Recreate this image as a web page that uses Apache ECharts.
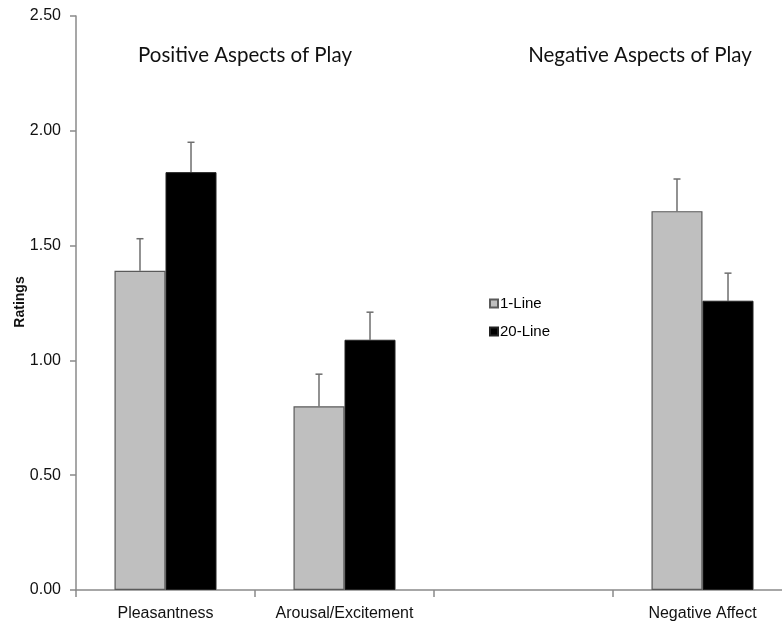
<!DOCTYPE html>
<html>
<head>
<meta charset="utf-8">
<script src="https://cdn.jsdelivr.net/npm/echarts@6/dist/echarts.min.js"></script>
<style>html,body{margin:0;padding:0;background:#fff}#c{width:782px;height:622px}</style>
</head>
<body>
<div id="c"></div>
<script>
var categories = ['Pleasantness', 'Arousal/Excitement', '', 'Negative Affect'];
var seriesNames = ['1-Line', '20-Line'];
var line1 = [1.39, 0.80, null, 1.65];
var line20 = [1.82, 1.09, null, 1.26];
var err1 = [0.14, 0.14, null, 0.14];
var err20 = [0.13, 0.12, null, 0.12];
var yTicks = [0, 0.5, 1.0, 1.5, 2.0, 2.5];
var groupTitles = ['Positive Aspects of Play', 'Negative Aspects of Play'];
var yAxisTitle = 'Ratings';

var CAT_GAP = 0.43;

function errData(vals, errs) {
  var out = [];
  for (var i = 0; i < vals.length; i++) {
    if (vals[i] == null) continue;
    out.push([i, vals[i], vals[i] + errs[i]]);
  }
  return out;
}

function errRender(side) {
  return function (params, api) {
    var idx = api.value(0);
    var lo = api.coord([idx, api.value(1)]);
    var hi = api.coord([idx, api.value(2)]);
    var catW = api.size([1, 0])[0];
    var barW = catW * (1 - CAT_GAP) / 2;
    var x = lo[0] + side * barW / 2;
    var cap = 3.5;
    return {
      type: 'group',
      children: [
        {type: 'line', shape: {x1: x, y1: lo[1], x2: x, y2: hi[1]}, style: {stroke: '#6e6e6e', lineWidth: 1.5}},
        {type: 'line', shape: {x1: x - cap, y1: hi[1], x2: x + cap, y2: hi[1]}, style: {stroke: '#6e6e6e', lineWidth: 1.5}}
      ]
    };
  };
}

var chart = echarts.init(document.getElementById('c'), null, {renderer: 'canvas'});
chart.setOption({
  animation: false,
  backgroundColor: '#ffffff',
  grid: {left: 76, width: 716, top: 16, height: 574, containLabel: false, outerBoundsMode: 'none'},
  legend: {
    data: seriesNames,
    orient: 'vertical',
    left: 484,
    top: 291,
    icon: 'rect',
    itemWidth: 8,
    itemHeight: 8,
    itemGap: 13,
    textStyle: {fontFamily: 'Liberation Sans, Arial, sans-serif', fontSize: 15, color: '#000', padding: [0, 0, 0, -3]}
  },
  graphic: [
    {type: 'text', x: 245, y: 55, style: {text: groupTitles[0], fontFamily: 'Lato, sans-serif', fontSize: 20.5, fill: '#111', align: 'center', verticalAlign: 'middle'}},
    {type: 'text', x: 640, y: 55, style: {text: groupTitles[1], fontFamily: 'Lato, sans-serif', fontSize: 20.5, fill: '#111', align: 'center', verticalAlign: 'middle'}},
    {type: 'text', x: 20, y: 302, rotation: Math.PI / 2, style: {text: yAxisTitle, fontFamily: 'Liberation Sans, Arial, sans-serif', fontSize: 14, fontWeight: 'bold', fill: '#111', align: 'center', verticalAlign: 'middle'}}
  ],
  xAxis: {
    type: 'category',
    data: categories,
    axisLine: {lineStyle: {color: '#8a8a8a', width: 1.5}},
    axisTick: {show: true, length: 7, lineStyle: {color: '#8a8a8a', width: 1.5}},
    axisLabel: {fontFamily: 'Liberation Sans, Arial, sans-serif', fontSize: 16, color: '#111', margin: 16, interval: 0}
  },
  yAxis: {
    type: 'value',
    min: 0,
    max: 2.5,
    interval: 0.5,
    axisLine: {show: true, lineStyle: {color: '#8a8a8a', width: 1.5}},
    axisTick: {show: true, length: 6, lineStyle: {color: '#8a8a8a', width: 1.5}},
    splitLine: {show: false},
    axisLabel: {
      fontFamily: 'Liberation Sans, Arial, sans-serif', fontSize: 16, color: '#111', margin: 15,
      formatter: function (v) { return v.toFixed(2); }
    }
  },
  series: [
    {
      name: seriesNames[0], type: 'bar', data: line1, barGap: '0%', barCategoryGap: (CAT_GAP * 100) + '%',
      itemStyle: {color: '#bfbfbf', borderColor: '#5a5a5a', borderWidth: 1.2}
    },
    {
      name: seriesNames[1], type: 'bar', data: line20, barGap: '0%', barCategoryGap: (CAT_GAP * 100) + '%',
      itemStyle: {color: '#000000', borderColor: '#222', borderWidth: 1}
    },
    {type: 'custom', renderItem: errRender(-1), data: errData(line1, err1), encode: {x: 0, y: [1, 2]}, z: 1, silent: true},
    {type: 'custom', renderItem: errRender(1), data: errData(line20, err20), encode: {x: 0, y: [1, 2]}, z: 1, silent: true}
  ]
});
</script>
</body>
</html>
